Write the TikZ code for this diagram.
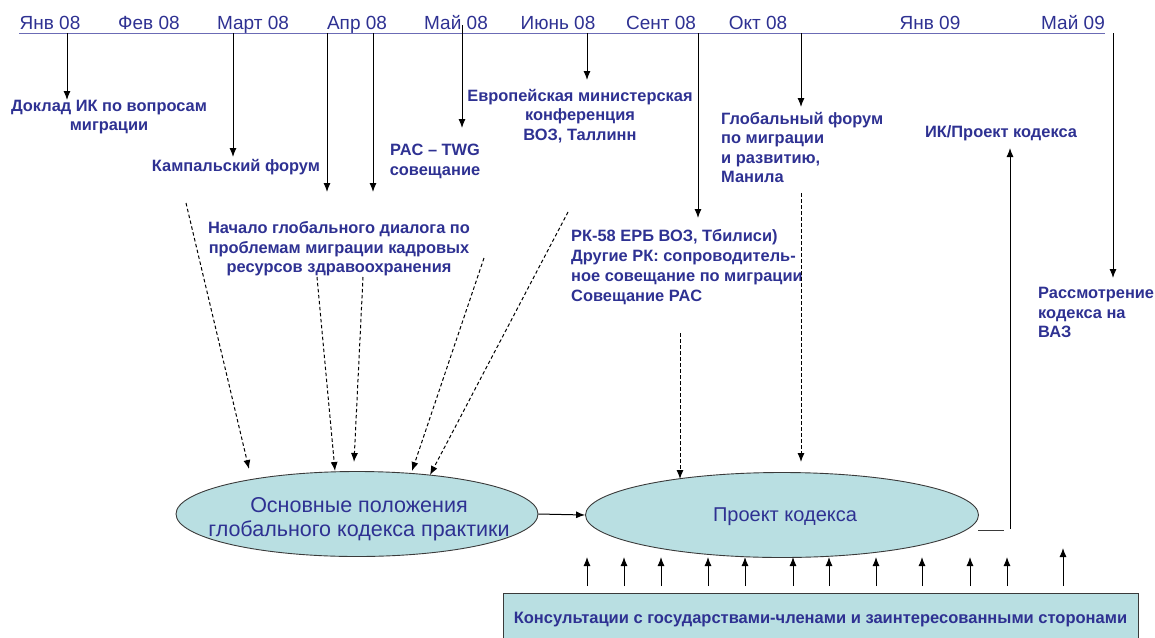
\documentclass[tikz,border=0pt]{standalone}
\usepackage{fontspec}
\setmainfont{Liberation Sans}
\usetikzlibrary{arrows.meta,shapes.geometric}
\definecolor{txt}{HTML}{2E3192}
\definecolor{tlc}{HTML}{6B6BB5}
\definecolor{fillc}{HTML}{B9DFE2}
\definecolor{edgec}{HTML}{3A3A3A}
\begin{document}
\begin{tikzpicture}[x=1pt,y=-1pt,
  month/.style={font=\fontsize{19}{20}\selectfont, text=txt, inner sep=0pt, anchor=base},
  lbl/.style={font=\fontsize{16.4}{19.6}\selectfont\bfseries, text=txt, inner sep=0pt},
  sarrow/.style={-{Latex[length=9pt,width=7pt]}, black, line width=1pt},
  darrow/.style={sarrow, dash pattern=on 3.5pt off 2.5pt},
  ell/.style={ellipse, draw=edgec, fill=fillc, line width=0.9pt, inner sep=0pt},
  elltext/.style={text=txt, inner sep=0pt, align=center, font=\fontsize{20}{23}\selectfont},
  boxc/.style={rectangle, draw=edgec, fill=fillc, line width=0.9pt, inner sep=0pt, text=txt, font=\fontsize{16.5}{19}\selectfont\bfseries}]
\useasboundingbox (0,0) rectangle (1155,637);

% timeline
\coordinate (tlA) at (19,33);
\coordinate (tlB) at (1105,33);
\draw[tlc, line width=1pt] (tlA) -- (tlB);
\node[month] (m1) at (50,29) {Янв 08};
\node[month] (m2) at (149,29) {Фев 08};
\node[month] (m3) at (253,29) {Март 08};
\node[month] (m4) at (357,29) {Апр 08};
\node[month] (m5) at (456,29) {Май 08};
\node[month] (m6) at (558,29) {Июнь 08};
\node[month] (m7) at (661,29) {Сент 08};
\node[month] (m8) at (758,29) {Окт 08};
\node[month] (m9) at (930,29) {Янв 09};
\node[month] (m10) at (1073,29) {Май 09};

% labels
\node[lbl, align=center] (doklad) at (109,117) {Доклад ИК по вопросам\\миграции};
\node[lbl] (kampala) at (236,167) {Кампальский форум};
\node[lbl, align=center] (pac) at (435,161.5) {PAC -- TWG\\совещание};
\node[lbl, align=center] (evro) at (580,116) {Европейская министерская\\конференция\\ВОЗ, Таллинн};
\node[lbl, align=left, anchor=west] (glob) at (721,147.5) {Глобальный форум\\по миграции\\и развитию,\\Манила};
\node[lbl] (ik) at (1001,133) {ИК/Проект кодекса};
\node[lbl, align=center] (nachalo) at (339,249) {Начало глобального диалога по\\проблемам миграции кадровых\\ресурсов здравоохранения};
\node[lbl, align=left, anchor=west, font=\fontsize{16.4}{20}\selectfont\bfseries] (rk) at (571,267) {РК-58 ЕРБ ВОЗ, Тбилиси)\\Другие РК: сопроводитель-\\ное совещание по миграции\\Совещание PAC};
\node[lbl, align=left, anchor=west] (rassm) at (1038,312.5) {Рассмотрение\\кодекса на\\ВАЗ};

% ellipses and box
\node[ell, minimum width=362pt, minimum height=85pt] (e1) at (357,514) {};
\node[elltext, font=\fontsize{21.5}{23.5}\selectfont] (e1t) at (359,519) {Основные положения\\глобального кодекса практики};
\node[ell, minimum width=393pt, minimum height=85pt] (e2) at (782,515) {};
\node[elltext] (e2t) at (785,517) {Проект кодекса};
\node[boxc, minimum width=635pt, minimum height=54pt] (cons) at (820.5,620) {Консультации с государствами-членами и заинтересованными сторонами};

% solid arrows from timeline
\coordinate (t1) at (67,33);   \coordinate (s1) at (67,100);
\coordinate (t2) at (233,33);  \coordinate (s2) at (233,157);
\coordinate (t3) at (327,33);  \coordinate (s3) at (327,192);
\coordinate (t4) at (373,33);  \coordinate (s4) at (373,192);
\coordinate (t5) at (462,25);  \coordinate (s5) at (462,128);
\coordinate (t6) at (587,33);  \coordinate (s6) at (587,80);
\coordinate (t7) at (698,33);  \coordinate (s7) at (698,218);
\coordinate (t8) at (801,33);  \coordinate (s8) at (801,107);
\coordinate (t9) at (1113,33); \coordinate (s9) at (1113,278);
\foreach \i in {1,...,9} {\draw[sarrow] (t\i) -- (s\i);}

% dashed arrows
\coordinate (d1a) at (186,203); \coordinate (d1b) at (249,469);
\coordinate (d2a) at (317,277); \coordinate (d2b) at (335,471);
\coordinate (d3a) at (363,277); \coordinate (d3b) at (354,462);
\coordinate (d4a) at (484,258); \coordinate (d4b) at (412,471);
\coordinate (d5a) at (568,212); \coordinate (d5b) at (430,475);
\coordinate (d6a) at (680,333); \coordinate (d6b) at (680,479);
\coordinate (d7a) at (801,193); \coordinate (d7b) at (801,462);
\foreach \i in {1,...,7} {\draw[darrow] (d\i a) -- (d\i b);}

% ellipse to ellipse
\draw[sarrow] (e1.east) -- (e2.west);

% return line to IK
\coordinate (r1) at (978,530);
\coordinate (r2) at (1004,530);
\coordinate (r3) at (1010,529);
\coordinate (r4) at (1010,148);
\draw[edgec, line width=1pt] (r1) -- (r2);
\draw[sarrow] (r3) -- (r4);

% consultation arrows
\foreach \x in {587,624,661,708,745,793,829,876,922,970,1007} {
  \coordinate (ua\x) at (\x,586);
  \coordinate (ub\x) at (\x,557);
  \draw[sarrow] (ua\x) -- (ub\x);
}
\coordinate (ua1063) at (1063,586);
\coordinate (ub1063) at (1063,548);
\draw[sarrow] (ua1063) -- (ub1063);
\end{tikzpicture}
\end{document}
